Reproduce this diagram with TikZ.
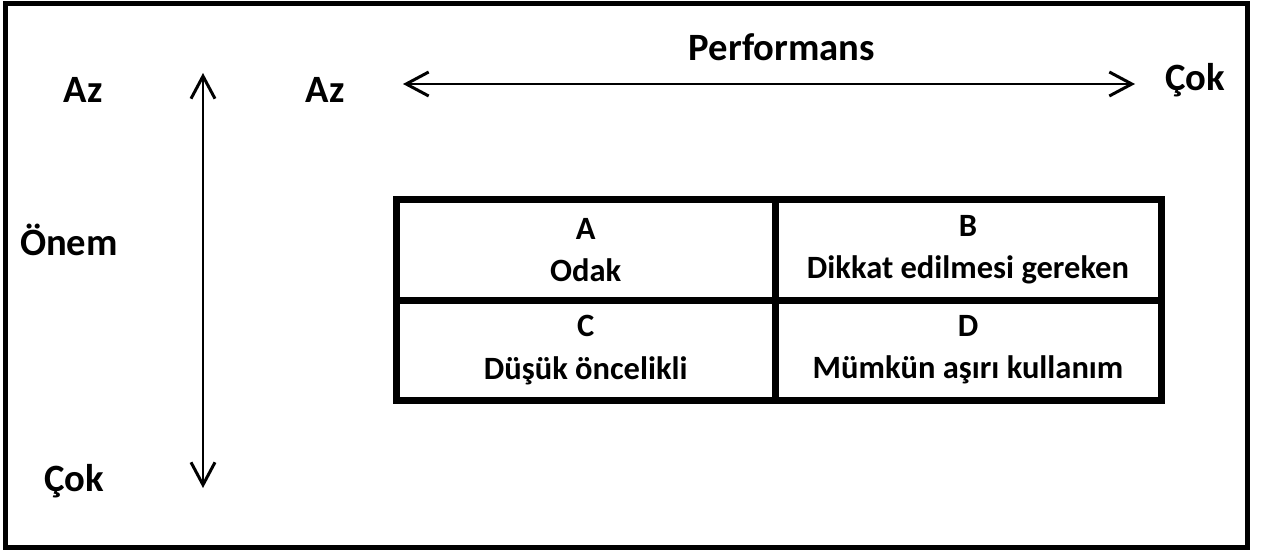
\documentclass[tikz,border=0pt]{standalone}
\usepackage{fontspec}
\setmainfont{Carlito}
\usetikzlibrary{arrows.meta}

\tikzset{
  lbl/.style={font=\bfseries\fontsize{22}{26}\selectfont, inner sep=0pt},
  cell/.style={draw, line width=0.14cm, minimum height=2cm, align=center,
    font=\bfseries\fontsize{18.5}{24}\selectfont},
  axis/.style={draw, line width=0.04cm, <->}
}

\begin{document}
\begin{tikzpicture}[>={Straight Barb[length=0.45cm,width=0.48cm,line width=0.06cm]}]
\useasboundingbox (0,0) rectangle (25.26,-11.06);
\path[draw, line width=0.1cm] (0.1,-0.08) rectangle (24.94,-10.94);
% axis labels
\node[lbl] (azL) at (1.66,-1.80) {Az};
\node[lbl] (azT) at (6.50,-1.80) {Az};
\node[lbl] (perf) at (15.64,-0.94) {Performans};
\node[lbl] (cokT) at (23.90,-1.60) {Çok};
\node[lbl] (onem) at (1.38,-4.80) {Önem};
\node[lbl] (cokL) at (1.48,-9.62) {Çok};
% arrows
\coordinate (vtop) at (4.06,-1.46);
\coordinate (vbot) at (4.06,-9.76);
\coordinate (hleft) at (8.06,-1.68);
\coordinate (hright) at (22.70,-1.68);
\path[axis] (vtop) -- (vbot);
\path[axis] (hleft) -- (hright);
% matrix
\node[cell, minimum width=7.57cm] (cellA) at (11.715,-5.0) {A\\Odak};
\node[cell, minimum width=7.72cm] (cellB) at (19.36,-5.0) {B\\Dikkat edilmesi gereken};
\node[cell, minimum width=7.57cm] (cellC) at (11.715,-7.0) {C\\Düşük öncelikli};
\node[cell, minimum width=7.72cm] (cellD) at (19.36,-7.0) {D\\Mümkün aşırı kullanım};
\end{tikzpicture}
\end{document}
